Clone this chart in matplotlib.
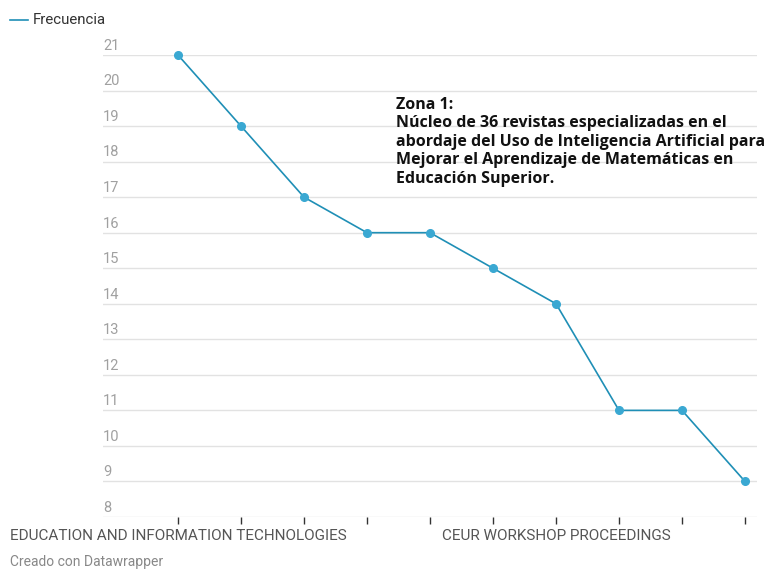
import matplotlib
matplotlib.use("Agg")
import matplotlib.pyplot as plt
from matplotlib.lines import Line2D

values = [21, 19, 17, 16, 16, 15, 14, 11, 11, 9]
x_labels = ["EDUCATION AND INFORMATION TECHNOLOGIES", "", "", "", "", "",
            "CEUR WORKSHOP PROCEEDINGS", "", "", ""]
y_ticks = list(range(8, 22))
series_name = "Frecuencia"
annotation = ("Zona 1:\nNúcleo de 36 revistas especializadas en el\n"
              "abordaje del Uso de Inteligencia Artificial para\n"
              "Mejorar el Aprendizaje de Matemáticas en\nEducación Superior.")
credit = "Creado con Datawrapper"

plt.rcParams['font.family'] = ['Roboto', 'DejaVu Sans']
W, H = 768, 571
fig = plt.figure(figsize=(W/100, H/100), dpi=100)
ax = fig.add_axes([103/W, (H-517)/H, (757-103)/W, (517-55)/H])

xs = list(range(len(values)))
ax.set_xlim(-1.19, 9.19)
ax.set_ylim(8, 21)

for v in y_ticks:
    ax.axhline(v, color='#e2e2e2', lw=1, zorder=0)
    ax.text(0, v + 0.06, str(v), transform=ax.get_yaxis_transform(),
            ha='left', va='bottom', fontsize=10.5, color='#a0a0a0')

line_color = '#1f8fb6'
ax.plot(xs, values, color=line_color, lw=1.2, zorder=3, clip_on=False)
ax.plot(xs, values, 'o', ms=5.5, color='#3aa8d2', mec='#3aa8d2', zorder=4, clip_on=False)

for s in ax.spines.values():
    s.set_visible(False)
ax.set_yticks([])
ax.set_xticks(xs)
ax.set_xticklabels(x_labels, fontsize=11, color='#555555')
ax.tick_params(axis='x', length=5, width=1, color='#333333', pad=4, direction='out')

# legend
fig.add_artist(Line2D([10/W, 28/W], [1-20/H, 1-20/H], color=line_color, lw=1.2))
fig.text(33/W, 1-20/H, series_name, fontsize=10.8, color='#333333', va='center', ha='left')

fig.text(396/W, 1-97/H, annotation, fontsize=11.55, fontweight='bold', color='#111111',
         va='top', ha='left', linespacing=1.2, family=['Open Sans', 'DejaVu Sans'])

fig.text(10/W, 1-562/H, credit, fontsize=10, color='#888888', va='center', ha='left')

fig.savefig("out.png", dpi=100)
